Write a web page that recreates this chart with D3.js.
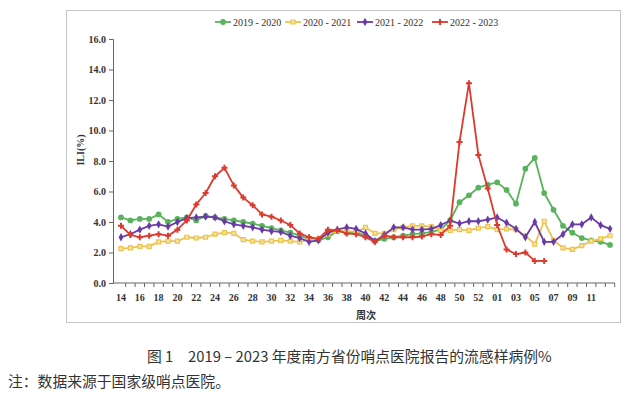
<!DOCTYPE html>
<html>
<head>
<meta charset="utf-8">
<script src="https://cdn.jsdelivr.net/npm/d3@7"></script>
<style>
  body { margin: 0; background: #fff; }
  svg { display: block; }
</style>
</head>
<body>
<svg id="chart" width="641" height="397"></svg>
<script>
// weeks 14..53 then 01..13
const weeks = d3.range(14, 54).map(d => String(d)).concat(d3.range(1, 14).map(d => String(d).padStart(2, "0")));
const yTicks = [0, 2, 4, 6, 8, 10, 12, 14, 16];
const seriesNames = ["2019 - 2020", "2020 - 2021", "2021 - 2022", "2022 - 2023"];

const s2019 = [4.3, 4.1, 4.2, 4.2, 4.5, 4.0, 4.2, 4.3, 4.1, 4.4, 4.3, 4.2, 4.1, 4.0, 3.9, 3.75, 3.6, 3.45, 3.3, 3.1,
  2.9, 2.8, 3.0, 3.4, 3.3, 3.35, 3.1, 2.75, 2.9, 3.0, 3.1, 3.2, 3.25, 3.35, 3.5, 4.1, 5.3, 5.75, 6.25, 6.45,
  6.6, 6.1, 5.2, 7.5, 8.2, 5.9, 4.8, 3.75, 3.3, 2.95, 2.8, 2.7, 2.5];
const s2020 = [2.25, 2.3, 2.4, 2.4, 2.7, 2.75, 2.75, 3.0, 2.95, 3.0, 3.2, 3.3, 3.25, 2.85, 2.75, 2.7, 2.75, 2.8, 2.75, 2.7,
  2.85, 2.9, 3.2, 3.4, 3.4, 3.35, 3.65, 3.25, 3.25, 3.5, 3.65, 3.75, 3.75, 3.7, 3.45, 3.45, 3.5, 3.45, 3.6, 3.7,
  3.5, 3.55, 3.5, 3.1, 2.55, 4.05, 2.8, 2.3, 2.2, 2.45, 2.75, 2.9, 3.1];
const s2021 = [3.0, 3.2, 3.5, 3.75, 3.85, 3.7, 4.0, 4.25, 4.3, 4.35, 4.3, 4.05, 3.85, 3.75, 3.65, 3.5, 3.4, 3.35, 3.1, 2.95,
  2.7, 2.8, 3.3, 3.5, 3.65, 3.55, 3.25, 2.75, 3.15, 3.65, 3.65, 3.5, 3.5, 3.55, 3.8, 4.1, 3.9, 4.05, 4.05, 4.15,
  4.3, 3.95, 3.55, 3.0, 4.0, 2.7, 2.7, 3.2, 3.85, 3.85, 4.3, 3.8, 3.55];
const s2022 = [3.75, 3.15, 3.0, 3.1, 3.2, 3.1, 3.5, 4.1, 5.15, 5.9, 7.0, 7.55, 6.4, 5.6, 5.1, 4.5, 4.35, 4.1, 3.8, 3.25,
  3.0, 2.9, 3.5, 3.45, 3.25, 3.2, 3.0, 2.7, 3.1, 3.0, 3.0, 3.0, 3.05, 3.2, 3.15, 3.75, 9.25, 13.1, 8.4, 6.2,
  3.8, 2.2, 1.9, 2.0, 1.45, 1.45];

const series = [
  { name: seriesNames[0], values: s2019, color: "#59b35c", symbol: "circle" },
  { name: seriesNames[1], values: s2020, color: "#ecc34e", symbol: "square" },
  { name: seriesNames[2], values: s2021, color: "#6a3aa6", symbol: "diamond" },
  { name: seriesNames[3], values: s2022, color: "#dc3a2f", symbol: "cross" }
];

const svg = d3.select("#chart");
const plotLeft = 113, plotRight = 615, plotTop = 39, plotBottom = 283;

// outer frame
svg.append("rect")
  .attr("x", 66.5).attr("y", 10.5)
  .attr("width", 554).attr("height", 312)
  .attr("fill", "none").attr("stroke", "#c4c4c4");

const x = d3.scalePoint().domain(weeks).range([121, 610]);
const y = d3.scaleLinear().domain([0, 16]).range([plotBottom, plotTop]);
const step = x.step();

// y axis
svg.append("g")
  .attr("transform", `translate(${plotLeft},0)`)
  .call(d3.axisLeft(y).tickValues(yTicks).tickFormat(d3.format(".1f")).tickSize(4).tickPadding(3))
  .call(g => g.select(".domain").attr("stroke", "#666"))
  .call(g => g.selectAll(".tick line").attr("stroke", "#666"))
  .call(g => g.selectAll("text")
    .attr("font-family", "Liberation Serif").attr("font-size", 10)
    .attr("font-weight", "bold").attr("fill", "#333"));

// x axis: labels every other week, ticks between categories
const xAxis = svg.append("g").attr("transform", `translate(0,${plotBottom})`);
xAxis.append("line")
  .attr("x1", plotLeft).attr("x2", plotRight)
  .attr("stroke", "#666");
xAxis.selectAll(".bt")
  .data(weeks)
  .join("line")
  .attr("x1", d => x(d) + step / 2).attr("x2", d => x(d) + step / 2)
  .attr("y1", 0).attr("y2", 4)
  .attr("stroke", "#666");
xAxis.selectAll(".lab")
  .data(weeks.filter((d, i) => i % 2 === 0 && i < 52))
  .join("text")
  .attr("x", d => x(d))
  .attr("y", 18)
  .attr("text-anchor", "middle")
  .attr("font-family", "Liberation Serif").attr("font-size", 10)
  .attr("font-weight", "bold").attr("fill", "#333")
  .text(d => d);

// axis titles
svg.append("text")
  .attr("transform", "translate(84,150) rotate(-90)")
  .attr("text-anchor", "middle")
  .attr("font-family", "Liberation Serif").attr("font-size", 10)
  .attr("font-weight", "bold").attr("fill", "#333")
  .text("ILI(%)");
svg.append("text")
  .attr("x", 366).attr("y", 319)
  .attr("text-anchor", "middle")
  .attr("font-family", "Noto Sans CJK SC").attr("font-size", 10)
  .attr("font-weight", "bold").attr("fill", "#333")
  .text("周次");

const symbols = {
  circle: d3.symbol(d3.symbolCircle, 26),
  square: d3.symbol(d3.symbolSquare, 16),
  diamond: d3.symbol(d3.symbolDiamond, 20),
  cross: d3.symbol(d3.symbolCross, 20)
};

function marker(g, s) {
  return g.append("path")
    .attr("d", symbols[s.symbol]())
    .attr("fill", s.symbol === "square" ? "#f6e3a0" : s.color)
    .attr("stroke", s.color)
    .attr("stroke-width", s.symbol === "square" ? 1.2 : 0);
}

const line = d3.line().x((d, i) => x(weeks[i])).y(d => y(d));

series.forEach(s => {
  const g = svg.append("g");
  g.append("path")
    .datum(s.values)
    .attr("d", line)
    .attr("fill", "none")
    .attr("stroke", s.color)
    .attr("stroke-width", 1.8)
    .attr("stroke-linejoin", "round");
  s.values.forEach((v, i) => {
    marker(g, s).attr("transform", `translate(${x(weeks[i])},${y(v)})`);
  });
});

// legend
const legendX = [223, 293, 365, 440];
const legend = svg.append("g").attr("transform", "translate(0,22)");
series.forEach((s, i) => {
  const g = legend.append("g").attr("transform", `translate(${legendX[i]},0)`);
  g.append("line").attr("x1", -8).attr("x2", 8)
    .attr("stroke", s.color).attr("stroke-width", 1.8);
  marker(g, s);
  g.append("text")
    .attr("x", 10).attr("y", 3.5)
    .attr("font-family", "Liberation Serif").attr("font-size", 10)
    .attr("fill", "#333")
    .text(s.name);
});

// caption
svg.append("text")
  .attr("x", 147).attr("y", 362)
  .attr("font-family", "Noto Sans CJK SC").attr("font-size", 14.8)
  .attr("fill", "#333")
  .text("图 1　2019 – 2023 年度南方省份哨点医院报告的流感样病例%");
svg.append("text")
  .attr("x", 8).attr("y", 387)
  .attr("font-family", "Noto Sans CJK SC").attr("font-size", 14.8)
  .attr("fill", "#333")
  .text("注：数据来源于国家级哨点医院。");
</script>
</body>
</html>
